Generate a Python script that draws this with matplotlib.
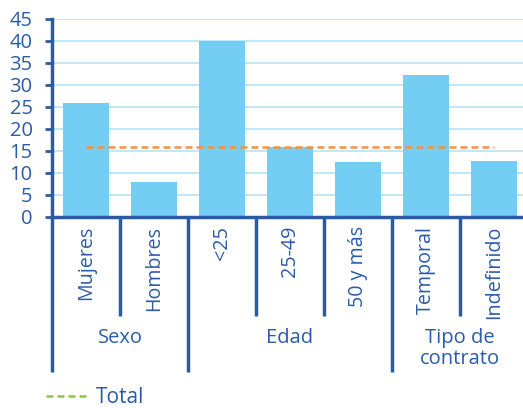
import matplotlib
matplotlib.use("Agg")
import matplotlib.pyplot as plt
import matplotlib.transforms as mtransforms
from matplotlib.lines import Line2D

categories = ["Mujeres", "Hombres", "<25", "25-49", "50 y más", "Temporal", "Indefinido"]
values = [25.9, 8.0, 40.0, 15.9, 12.5, 32.3, 12.7]
total = 16.0
groups = ["Sexo", "Edad", "Tipo de\ncontrato"]
group_sizes = [2, 3, 2]
yticks = [0, 5, 10, 15, 20, 25, 30, 35, 40, 45]

BLUE = "#2B5BA8"
BAR = "#74CDF2"
GRID = "#B9E6F8"
ORANGE = "#F7913D"
GREEN = "#8CC63F"

plt.rcParams["font.family"] = ["Open Sans", "DejaVu Sans"]

W, H = 523, 408
fig = plt.figure(figsize=(W / 100, H / 100), dpi=100)
x0, x1 = 52, 52 + 68 * len(categories)
ytop, ybot = 19, 217
ax = fig.add_axes([x0 / W, (H - ybot) / H, (x1 - x0) / W, (ybot - ytop) / H])

xs = list(range(len(categories)))
ax.bar(xs, values, width=0.68, color=BAR, zorder=2)
ax.hlines(total, xs[0], xs[-1], colors=ORANGE, linestyles=(0, (2.8, 1.6)),
          linewidth=1.8, zorder=3)

ax.set_xlim(-0.5, len(categories) - 0.5)
ax.set_ylim(0, 45)
ax.set_yticks(yticks)
ax.yaxis.grid(True, color=GRID, linewidth=1.3, zorder=0)
ax.set_axisbelow(True)
ax.tick_params(axis="y", colors=BLUE, labelsize=14.5, length=5, width=2, pad=9)
ax.set_xticks([])
for side in ("top", "right"):
    ax.spines[side].set_visible(False)
for side in ("left", "bottom"):
    ax.spines[side].set_color(BLUE)
    ax.spines[side].set_linewidth(2.5)

trans = mtransforms.blended_transform_factory(ax.transData, ax.transAxes)
long_y = -(372 - ybot) / (ybot - ytop)
short_y = -(316 - ybot) / (ybot - ytop)

# category labels
for x, name in zip(xs, categories):
    ax.text(x, -(226 - ybot) / (ybot - ytop), name, transform=trans, rotation=90,
            ha="center", va="top", color=BLUE, fontsize=14.2)

# separators and group labels
start = 0
bounds = [start]
for size in group_sizes:
    start += size
    bounds.append(start)
for b in range(len(categories)):
    edge = b - 0.5
    is_group = b in bounds
    ax.plot([edge, edge], [long_y if is_group else short_y, 0], transform=trans,
            color=BLUE, linewidth=2.5, clip_on=False, solid_capstyle="butt")
for name, a, b in zip(groups, bounds[:-1], bounds[1:]):
    ax.text((a + b - 1) / 2, -(328 - ybot) / (ybot - ytop), name, transform=trans,
            ha="center", va="top", color=BLUE, fontsize=14.5, linespacing=1.05)

handle = Line2D([], [], color=GREEN, linestyle=(0, (2.8, 1.6)), linewidth=1.8)
fig.legend([handle], ["Total"], loc="lower left", bbox_to_anchor=(38 / W, -0.02),
           frameon=False, fontsize=15, labelcolor=BLUE, handlelength=2.0,
           handletextpad=0.4, borderaxespad=0.0)

fig.savefig("out.png", dpi=100)
